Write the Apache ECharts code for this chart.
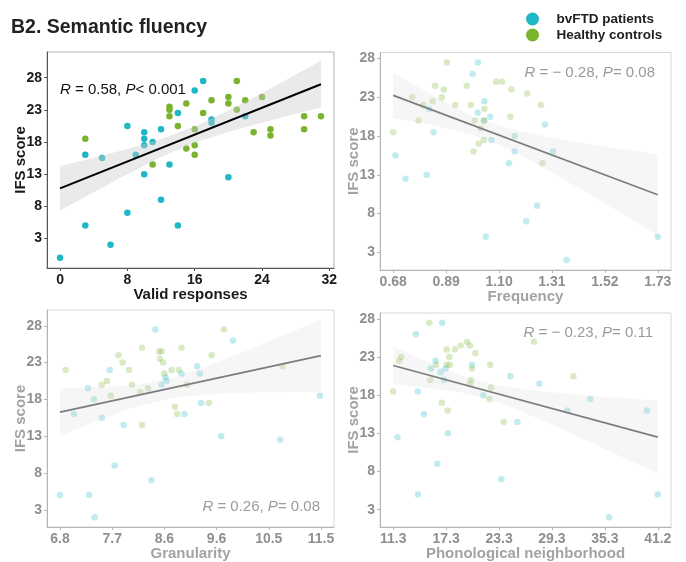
<!DOCTYPE html>
<html>
<head>
<meta charset="utf-8">
<script src="https://cdn.jsdelivr.net/npm/echarts@6/dist/echarts.min.js"></script>
<style>
html,body{margin:0;padding:0;background:#fff;}
#chart{width:686px;height:562px;}
</style>
</head>
<body>
<div id="chart"></div>
<script>
// ---------------- DATA ----------------
const ifsTicks = [3, 8, 13, 18, 23, 28];

// Panel 1: Valid responses
const validTicks = [0, 8, 16, 24, 32];
const validTickLabels = ['0', '8', '16', '24', '32'];
const validPatients = [[0,0],[3,16],[3,5],[5,15.5],[6,2],[8,20.5],[8,7],[9,16],[10,19.5],[10,18.5],[10,17.5],[10,13],[11,18],[12,20],[12,9],[13,14.5],[14,22.5],[14,5],[16,26],[17,27.5],[18,21.5],[18,21],[20,12.5],[22,22]];
const validControls = [[3,18.5],[11,14.5],[13,23.5],[13,23],[13,22],[14,20.5],[15,24],[15,17],[16,20],[16,17.5],[16,16],[17,22.5],[18,24.5],[20,25],[20,24],[21,27.5],[21,23],[22,24.5],[23,19.5],[24,25],[25,20],[25,19],[29,22],[29,20],[31,22]];
const validFit = [[0,10.78],[31,26.99]];
const validBandX = [0, 4, 8, 12, 16, 20, 24, 28, 31];
const validBandLo = [7.33, 10.2, 13.0, 15.65, 17.88, 19.6, 21.0, 22.4, 23.35];
const validBandHi = [14.23, 15.54, 16.9, 18.47, 20.42, 22.9, 25.6, 28.5, 30.65];

// Panel 2: Frequency
const freqTicks = [0.68, 0.89, 1.10, 1.31, 1.52, 1.73];
const freqTickLabels = ['0.68', '0.89', '1.10', '1.31', '1.52', '1.73'];
const freqPatients = [[0.689,15.5],[0.729,12.5],[0.813,13],[0.823,21.5],[0.84,18.5],[0.995,26],[1.015,21],[1.016,27.5],[1.041,20],[1.042,22.5],[1.047,5],[1.065,20.5],[1.07,17.5],[1.139,14.5],[1.162,18],[1.162,16],[1.208,7],[1.251,9],[1.282,19.5],[1.314,16],[1.368,2],[1.73,5]];
const freqControls = [[0.68,18.5],[0.756,23],[0.78,20],[0.80,22],[0.837,22.5],[0.846,24.5],[0.873,23],[0.881,24],[0.893,27.5],[0.926,22],[0.972,24.5],[0.988,22],[0.999,16],[1.003,20],[1.019,17],[1.026,19],[1.039,17.5],[1.042,21.5],[1.04,20],[1.088,25],[1.112,25],[1.145,20.5],[1.149,24],[1.212,23.5],[1.266,22],[1.272,14.5]];
const freqFit = [[0.68,23.24],[1.73,10.42]];
const freqBandX = [0.68, 0.85, 1.0, 1.15, 1.3, 1.45, 1.6, 1.73];
const freqBandLo = [20.3, 19.33, 18.18, 16.15, 13.48, 10.64, 7.74, 5.22];
const freqBandHi = [26.18, 22.99, 20.48, 18.85, 17.86, 17.04, 16.28, 15.62];

// Panel 3: Granularity
const granTicks = [6.78, 7.716, 8.652, 9.588, 10.524, 11.46];
const granTickLabels = ['6.8', '7.7', '8.6', '9.6', '10.5', '11.5'];
const granPatients = [[6.78,5],[7.03,16],[7.28,19.5],[7.30,5],[7.39,18],[7.40,2],[7.53,15.5],[7.67,22],[7.76,9],[7.92,14.5],[8.42,7],[8.49,27.5],[8.6,20],[8.67,21],[8.69,20.5],[8.96,21.5],[9.01,16],[9.24,22.5],[9.29,21.5],[9.31,17.5],[9.67,13],[9.88,26],[10.73,12.5],[11.44,18.5]];
const granControls = [[6.88,22],[7.53,20],[7.62,20.5],[7.69,18.5],[7.83,24],[7.9,23],[8.02,22],[8.07,20],[8.22,19],[8.25,25],[8.25,14.5],[8.36,19.5],[8.57,23.5],[8.56,24.5],[8.6,24.5],[8.63,23],[8.65,21.5],[8.78,22],[8.84,17],[8.88,16],[8.91,22],[8.96,25],[9.06,20],[9.45,17.5],[9.5,24],[9.72,27.5],[10.77,22.5]];
const granFit = [[6.78,16.27],[11.46,23.94]];
const granBandX = [6.78, 7.5, 8.2, 8.9, 9.6, 10.3, 11.0, 11.46];
const granBandLo = [13.07, 15.27, 17.17, 18.33, 18.76, 18.93, 19.02, 19.04];
const granBandHi = [19.47, 19.63, 20.03, 21.15, 23.02, 25.15, 27.36, 28.84];

// Panel 4: Phonological neighborhood
const phonTicks = [11.3, 17.28, 23.26, 29.24, 35.22, 41.2];
const phonTickLabels = ['11.3', '17.3', '23.3', '29.3', '35.3', '41.2'];
const phonPatients = [[11.79,12.5],[13.86,26],[14.09,18.5],[14.09,5],[14.77,15.5],[15.56,21.5],[16.09,22.5],[16.28,9],[16.65,21],[16.84,27.5],[17.03,20],[17.22,21.5],[17.48,13],[20.2,22],[21.48,18],[23.52,7],[24.54,20.5],[25.33,14.5],[27.82,19.5],[30.98,16],[33.55,17.5],[35.7,2],[39.96,16],[41.2,5]];
const phonControls = [[11.3,18.5],[11.98,22.5],[12.2,23],[15.37,27.5],[15.49,20],[16.13,22],[16.8,17],[17.33,24],[17.33,22],[17.45,16],[17.63,23],[17.71,22],[18.28,24],[18.92,24.5],[19.64,25],[19.97,24.5],[19.97,19.5],[20.09,20],[20.2,21.5],[20.58,23.5],[22.16,17.5],[22.27,22],[22.35,19],[23.78,14.5],[27.21,25],[31.66,20.5]];
const phonFit = [[11.3,21.9],[41.2,12.51]];
const phonBandX = [11.3, 15, 19, 23, 27, 31, 35, 38, 41.2];
const phonBandLo = [19.43, 19.02, 18.37, 17.13, 15.27, 13.2, 11.07, 9.43, 7.76];
const phonBandHi = [24.37, 22.46, 20.59, 19.31, 18.65, 18.2, 17.81, 17.57, 17.26];

// ---------------- STYLE ----------------
const FONT = '"Liberation Sans", Arial, Helvetica, sans-serif';
const CYAN = '#1fb6c6';
const GREEN = '#7bb32e';

const panels = [
  {grid:{left:47, top:52, width:287, height:216}, x:[-1.55,32.55], y:[-1.6,32.0], ticks:validTicks, labels:validTickLabels, name:'Valid responses', pat:validPatients, con:validControls, fit:validFit, bx:validBandX, lo:validBandLo, hi:validBandHi, faded:false},
  {grid:{left:380, top:52.5, width:291, height:217.5}, x:[0.6275,1.7825], y:[0.725,28.775], ticks:freqTicks, labels:freqTickLabels, name:'Frequency', pat:freqPatients, con:freqControls, fit:freqFit, bx:freqBandX, lo:freqBandLo, hi:freqBandHi, faded:true},
  {grid:{left:47, top:310, width:287, height:219}, x:[6.546,11.694], y:[0.66,30.14], ticks:granTicks, labels:granTickLabels, name:'Granularity', pat:granPatients, con:granControls, fit:granFit, bx:granBandX, lo:granBandLo, hi:granBandHi, faded:true},
  {grid:{left:380, top:313, width:291, height:219}, x:[9.805,42.695], y:[0.725,28.775], ticks:phonTicks, labels:phonTickLabels, name:'Phonological neighborhood', pat:phonPatients, con:phonControls, fit:phonFit, bx:phonBandX, lo:phonBandLo, hi:phonBandHi, faded:true}
];

const grids = [], xAxes = [], yAxes = [], series = [];

function labelFor(ticks, labels) {
  return function (v) {
    const i = ticks.findIndex(t => Math.abs(t - v) < 1e-6);
    return i >= 0 ? labels[i] : '';
  };
}

panels.forEach((p, i) => {
  const txt = p.faded ? '#8f8f8f' : '#1a1a1a';
  const nameCol = p.faded ? '#a3a3a3' : '#1a1a1a';
  const axisCol = p.faded ? '#b5b5b5' : '#555555';
  const borderCol = p.faded ? '#d9d9d9' : '#b0b0b0';
  grids.push(Object.assign({show:true, borderColor:borderCol, borderWidth:1, backgroundColor:'transparent'}, p.grid));
  xAxes.push({
    type:'value', gridIndex:i, min:p.x[0], max:p.x[1],
    name:p.name, nameLocation:'middle', nameGap:19, nameMoveOverlap:false,
    nameTextStyle:{fontFamily:FONT, fontSize:15, fontWeight:'bold', color:nameCol},
    axisLine:{show:true, onZero:false, lineStyle:{color:axisCol, width:1}},
    axisTick:{show:true, length:3, customValues:p.ticks, lineStyle:{color:axisCol}},
    axisLabel:{customValues:p.ticks, formatter:labelFor(p.ticks, p.labels), margin:5, fontFamily:FONT, fontSize:14, fontWeight:'bold', color:txt},
    splitLine:{show:false}
  });
  yAxes.push({
    type:'value', gridIndex:i, min:p.y[0], max:p.y[1],
    name:'IFS score', nameLocation:'middle', nameGap:19, nameMoveOverlap:false,
    nameTextStyle:{fontFamily:FONT, fontSize:15, fontWeight:'bold', color:nameCol},
    axisLine:{show:true, onZero:false, lineStyle:{color:axisCol, width:1}},
    axisTick:{show:true, length:3, customValues:ifsTicks, lineStyle:{color:axisCol}},
    axisLabel:{customValues:ifsTicks, margin:5, fontFamily:FONT, fontSize:14, fontWeight:'bold', color:txt},
    splitLine:{show:false}
  });
  const op = p.faded ? 0.28 : 1;
  series.push({
    type:'scatter', name: p.faded ? 'pat' + i : 'bvFTD patients', xAxisIndex:i, yAxisIndex:i,
    data:p.pat, symbolSize:6.5, z:2, silent:true,
    itemStyle:{color:CYAN, opacity:op}
  });
  series.push({
    type:'scatter', name: p.faded ? 'con' + i : 'Healthy controls', xAxisIndex:i, yAxisIndex:i,
    data:p.con, symbolSize:6.5, z:2, silent:true,
    itemStyle:{color:GREEN, opacity:op}
  });
  const bx = p.bx, lo = p.lo, hi = p.hi;
  series.push({
    type:'custom', xAxisIndex:i, yAxisIndex:i, z:3, silent:true,
    data:[[bx[0], lo[0]]],
    renderItem:function (params, api) {
      const pts = [];
      for (let k = 0; k < bx.length; k++) pts.push(api.coord([bx[k], hi[k]]));
      for (let k = bx.length - 1; k >= 0; k--) pts.push(api.coord([bx[k], lo[k]]));
      return {type:'polygon', shape:{points:pts},
        style:{fill: p.faded ? 'rgba(215,215,215,0.22)' : 'rgba(205,205,205,0.42)'}};
    }
  });
  series.push({
    type:'line', xAxisIndex:i, yAxisIndex:i, data:p.fit, symbol:'none', z:4, silent:true,
    lineStyle:{color: p.faded ? '#7d7d7d' : '#000000', width: p.faded ? 1.7 : 2}
  });
});

function statText(x, y, align, parts, color) {
  const base = {fontFamily:FONT, fontSize:15, fill:color};
  return {
    type:'text', x:x, y:y, z:10, silent:true,
    style:{
      text:parts, align:align, verticalAlign:'middle',
      font: '15px ' + FONT, fill:color,
      rich:{ i:Object.assign({fontStyle:'italic'}, base), n:base }
    }
  };
}

const option = {
  animation:false,
  backgroundColor:'#ffffff',
  title:{text:'B2. Semantic fluency', left:6, top:13,
    textStyle:{fontFamily:FONT, fontSize:19.5, fontWeight:'bold', color:'#222222'}},
  legend:{
    data:['bvFTD patients','Healthy controls'], orient:'vertical', left:521, top:7,
    icon:'circle', itemWidth:38, itemHeight:13, itemGap:2,
    textStyle:{fontFamily:FONT, fontSize:13.5, fontWeight:'bold', color:'#222222'},
    selectedMode:false
  },
  grid:grids, xAxis:xAxes, yAxis:yAxes, series:series,
  graphic:[
    statText(60, 90, 'left', '{i|R}{n| = 0.58, }{i|P}{n|< 0.001}', '#111111'),
    statText(655, 73, 'right', '{i|R}{n| = − 0.28, }{i|P}{n|= 0.08}', '#9a9a9a'),
    statText(320, 507, 'right', '{i|R}{n| = 0.26, }{i|P}{n|= 0.08}', '#9a9a9a'),
    statText(653, 333, 'right', '{i|R}{n| = − 0.23, }{i|P}{n|= 0.11}', '#9a9a9a')
  ]
};

const chart = echarts.init(document.getElementById('chart'), null, {renderer:'canvas'});
chart.setOption(option);
</script>
</body>
</html>
